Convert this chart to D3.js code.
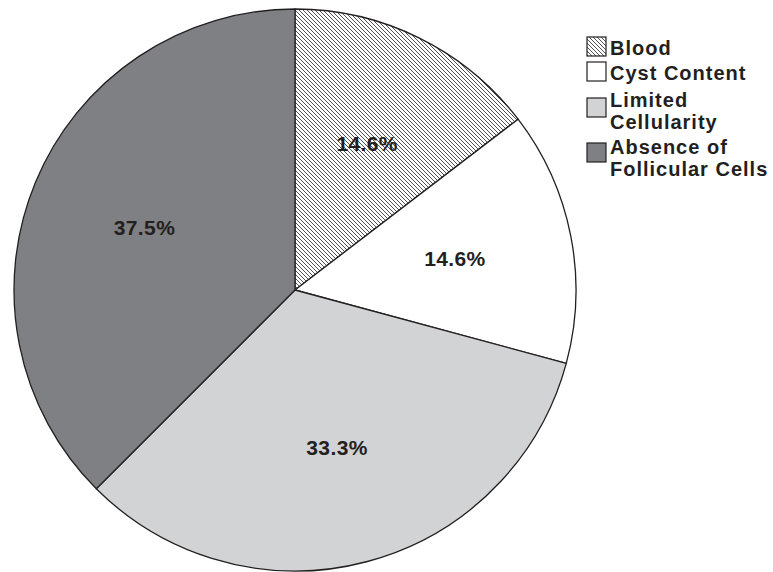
<!DOCTYPE html>
<html>
<head>
<meta charset="utf-8">
<script src="https://cdn.jsdelivr.net/npm/d3@7"></script>
<style>
  html, body { margin: 0; padding: 0; background: #fff; }
  svg { display: block; }
</style>
</head>
<body>
<svg id="chart" width="773" height="572"></svg>
<script>
// Slice data, clockwise from 12 o'clock
const categories = ["Blood", "Cyst Content", "Limited Cellularity", "Absence of Follicular Cells"];
const values = [14.6, 14.6, 33.3, 37.5];
const valueLabels = ["14.6%", "14.6%", "33.3%", "37.5%"];
// Legend text, split into lines
const legendLines = [["Blood"], ["Cyst Content"], ["Limited", "Cellularity"], ["Absence of", "Follicular Cells"]];
const fills = ["url(#hatch)", "#ffffff", "#d2d3d5", "#7f8083"];

const svg = d3.select("#chart");
const ink = "#231f20";
const font = "'Liberation Sans', Arial, Helvetica, sans-serif";

// Diagonal hatch for the "Blood" slice
const defs = svg.append("defs");
const pat = defs.append("pattern")
  .attr("id", "hatch")
  .attr("patternUnits", "userSpaceOnUse")
  .attr("width", 4).attr("height", 4);
pat.append("rect").attr("width", 4).attr("height", 4).attr("fill", "#fff");
pat.append("path")
  .attr("d", "M-1,-1 L5,5 M-1,3 L1,5 M3,-1 L5,1")
  .attr("stroke", "#333").attr("stroke-width", 0.85);

const cx = 295, cy = 290, R = 281;
const g = svg.append("g").attr("transform", `translate(${cx},${cy})`);

const pie = d3.pie().sort(null).value(d => d.v);
const data = pie(values.map((v, i) => ({ v, i })));
const arc = d3.arc().innerRadius(0).outerRadius(R);
const labelArc = d3.arc().innerRadius(R * 0.58).outerRadius(R * 0.58);

g.selectAll("path.slice").data(data).enter().append("path")
  .attr("class", "slice")
  .attr("d", arc)
  .attr("fill", d => fills[d.data.i])
  .attr("stroke", ink)
  .attr("stroke-width", 1.3)
  .attr("stroke-linejoin", "round");

g.selectAll("text.val").data(data).enter().append("text")
  .attr("class", "val")
  .attr("transform", d => `translate(${labelArc.centroid(d)})`)
  .attr("text-anchor", "middle")
  .attr("dy", "0.36em")
  .attr("font-family", font)
  .attr("font-weight", "bold")
  .attr("font-size", 21)
  .attr("letter-spacing", 0.4)
  .attr("fill", ink)
  .text(d => valueLabels[d.data.i]);

// Legend
const legendX = 587;
const legendY = d3.scaleOrdinal().domain(categories).range([37, 62, 98, 143]);
const lg = svg.append("g");
categories.forEach((c, i) => {
  const y = legendY(c);
  lg.append("rect")
    .attr("x", legendX).attr("y", y)
    .attr("width", 19).attr("height", 19)
    .attr("fill", fills[i])
    .attr("stroke", ink).attr("stroke-width", 1.2);
  const lines = legendLines[i];
  const t = lg.append("text")
    .attr("font-family", font)
    .attr("font-weight", "bold")
    .attr("font-size", 20)
    .attr("letter-spacing", 1)
    .attr("fill", ink);
  lines.forEach((ln, j) => {
    const base = lines.length === 1 ? y + 18 : y + (i === 3 ? 11 : 9) + j * 22;
    t.append("tspan").attr("x", legendX + 23).attr("y", base).text(ln);
  });
});
</script>
</body>
</html>
